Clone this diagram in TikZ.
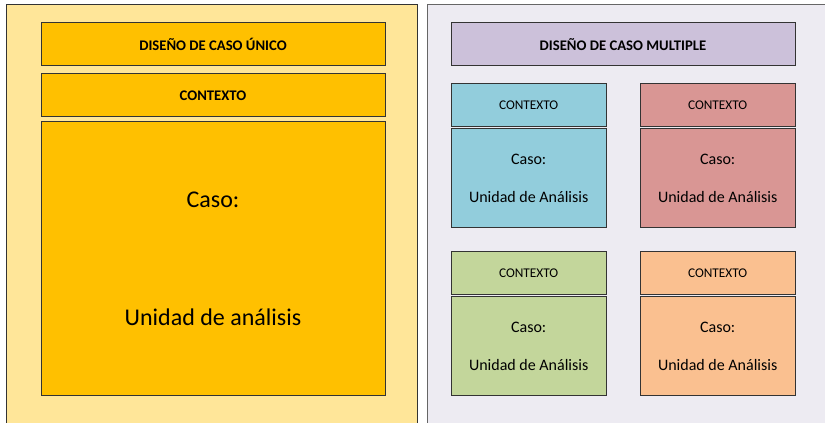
\documentclass[tikz,border=0pt]{standalone}
\usepackage{fontspec}
\setmainfont{Carlito}
\usepackage{xcolor}
\usepackage{tikz}

\definecolor{unicofondo}{HTML}{FFE699}
\definecolor{unicocaja}{HTML}{FFC000}
\definecolor{multifondo}{HTML}{EDEBF2}
\definecolor{multititulo}{HTML}{CCC1DA}
\definecolor{cian}{HTML}{92CDDC}
\definecolor{rojo}{HTML}{D99694}
\definecolor{verde}{HTML}{C3D69B}
\definecolor{naranja}{HTML}{FAC090}

\tikzset{
  caja/.style={draw=black!80, line width=0.75pt, anchor=north west, inner sep=0pt, outer sep=0pt, align=center},
}

\begin{document}
\begin{tikzpicture}[x=0.75pt,y=-0.75pt]
	\useasboundingbox (0,0) rectangle (825,423);
	\fill[white] (0,0) rectangle (825,423);
	% paneles de fondo
	\draw[black!80, fill=unicofondo, line width=0.75pt] (6,5) rectangle (417,440);
	\draw[black!60, fill=multifondo, line width=0.75pt] (427,5) rectangle (840,440);
	
	% caso unico
	\node[caja, fill=unicocaja, minimum width=258pt, minimum height=32.25pt, font=\bfseries\fontsize{11}{13}\selectfont] (tituloU) at (41,23) {DISEÑO DE CASO ÚNICO};
	\node[caja, fill=unicocaja, minimum width=258pt, minimum height=32.25pt, font=\bfseries\fontsize{11}{13}\selectfont] (contextoU) at (41,74) {CONTEXTO};
	\node[caja, fill=unicocaja, minimum width=258pt, minimum height=205.5pt, font=\fontsize{18}{88.5}\selectfont] (casoU) at (41,122) {Caso:\\Unidad de análisis};
	
	% caso multiple
	\node[caja, fill=multititulo, minimum width=258pt, minimum height=32.25pt, font=\bfseries\fontsize{11}{13}\selectfont] (tituloM) at (451,23) {DISEÑO DE CASO MULTIPLE};
	\foreach \x/\y/\c/\n in {451/84/cian/1, 640/84/rojo/2, 451/252/verde/3, 640/252/naranja/4}
	{
	\node[caja, fill=\c, minimum width=116.5pt, minimum height=32.25pt, font=\fontsize{10}{12}\selectfont] (contexto\n) at (\x,\y) {CONTEXTO};
	\node[caja, fill=\c, minimum width=116.5pt, minimum height=74.25pt, font=\fontsize{12}{28.5}\selectfont] (caso\n) at (\x,\y+45) {Caso:\\Unidad de Análisis};
	}
	
\end{tikzpicture}
\end{document}
